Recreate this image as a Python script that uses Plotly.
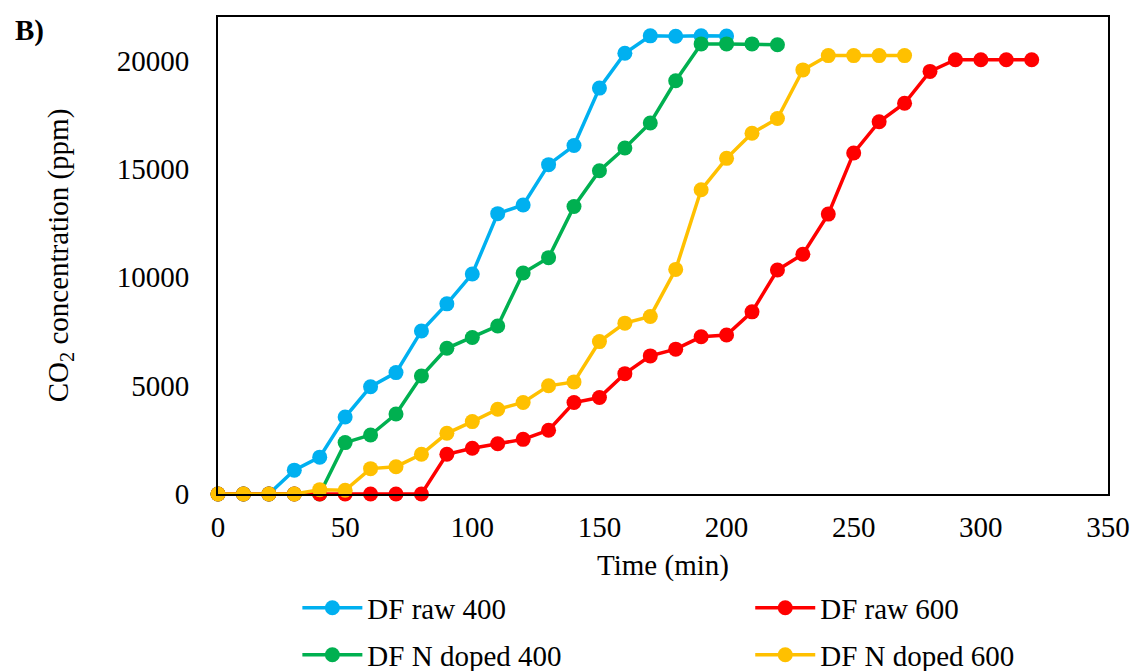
import plotly.graph_objects as go

time_raw400 = [0, 10, 20, 30, 40, 50, 60, 70, 80, 90, 100, 110, 120, 130, 140, 150, 160, 170, 180, 190, 200]
co2_raw400 = [0, 0, 0, 1100, 1700, 3550, 4950, 5600, 7520, 8770, 10150, 12930, 13330, 15190, 16070, 18720, 20330, 21130, 21110, 21130, 21120]

time_raw600 = [0, 10, 20, 30, 40, 50, 60, 70, 80, 90, 100, 110, 120, 130, 140, 150, 160, 170, 180, 190, 200,
               210, 220, 230, 240, 250, 260, 270, 280, 290, 300, 310, 320]
co2_raw600 = [0, 0, 0, 0, 0, 0, 0, 0, 0, 1830, 2110, 2320, 2520, 2940, 4220, 4450, 5550, 6370, 6680, 7250, 7330,
              8400, 10330, 11060, 12910, 15730, 17170, 18020, 19490, 20030, 20030, 20030, 20030]

time_nd400 = [0, 10, 20, 30, 40, 50, 60, 70, 80, 90, 100, 110, 120, 130, 140, 150, 160, 170, 180, 190, 200, 210, 220]
co2_nd400 = [0, 0, 0, 0, 0, 2370, 2720, 3690, 5440, 6720, 7220, 7750, 10190, 10900, 13260, 14910, 15960, 17110,
             19060, 20760, 20760, 20760, 20720]

time_nd600 = [0, 10, 20, 30, 40, 50, 60, 70, 80, 90, 100, 110, 120, 130, 140, 150, 160, 170, 180, 190, 200,
              210, 220, 230, 240, 250, 260, 270]
co2_nd600 = [0, 0, 0, 0, 200, 170, 1170, 1260, 1830, 2800, 3340, 3910, 4220, 4990, 5170, 7030, 7880, 8190,
             10360, 14030, 15480, 16640, 17320, 19560, 20220, 20220, 20220, 20220]

x_ticks = [0, 50, 100, 150, 200, 250, 300, 350]
y_ticks = [0, 5000, 10000, 15000, 20000]

FONT = "Liberation Serif"
FS = 29

# name, x, y, colour, legend id, legend position (container coords)
series = [
    ("DF raw 400", time_raw400, co2_raw400, "#00B0F0", "legend", (0.262, 0.094)),
    ("DF N doped 400", time_nd400, co2_nd400, "#00B050", "legend3", (0.262, 0.024)),
    ("DF raw 600", time_raw600, co2_raw600, "#FF0000", "legend2", (0.661, 0.094)),
    ("DF N doped 600", time_nd600, co2_nd600, "#FFC000", "legend4", (0.661, 0.024)),
]

fig = go.Figure()
legends = {}
for name, xs, ys, color, leg, pos in series:
    fig.add_trace(go.Scatter(
        x=xs, y=ys, name=name, mode="lines+markers",
        line=dict(color=color, width=3.5),
        marker=dict(color=color, size=15),
        cliponaxis=False, legend=leg,
    ))
    legends[leg] = dict(
        orientation="h", x=pos[0], y=pos[1], xref="container", yref="container",
        xanchor="left", yanchor="middle", itemwidth=60,
        font=dict(size=FS, family=FONT, color="black"), bgcolor="rgba(0,0,0,0)",
    )

fig.update_layout(
    width=1135, height=671,
    margin=dict(l=218, r=27, t=17, b=177),
    plot_bgcolor="white", paper_bgcolor="white",
    font=dict(family=FONT, color="black", size=FS),
    showlegend=True,
    **legends,
)

fig.update_xaxes(
    range=[0, 350], tickvals=x_ticks, ticktext=[str(v) for v in x_ticks],
    showgrid=False, zeroline=False, showline=True, linecolor="black", linewidth=2, mirror=True,
    ticks="outside", ticklen=6, tickcolor="rgba(0,0,0,0)",
    tickfont=dict(size=FS, family=FONT),
    title=dict(text="Time (min)", font=dict(size=FS, family=FONT), standoff=15),
    automargin=False,
)
fig.update_yaxes(
    range=[0, 22000], tickvals=y_ticks, ticktext=[str(v) for v in y_ticks],
    showgrid=False, zeroline=False, showline=True, linecolor="black", linewidth=2, mirror=True,
    ticks="outside", ticklen=21, tickcolor="rgba(0,0,0,0)",
    tickfont=dict(size=FS, family=FONT),
    title=dict(text="CO<sub>2</sub> concentration (ppm)", font=dict(size=FS, family=FONT), standoff=40),
    automargin=False,
)

fig.add_annotation(text="<b>B)</b>", xref="paper", yref="paper", x=-0.2306, y=1.01,
                   xanchor="left", yanchor="top", showarrow=False,
                   font=dict(size=FS, family=FONT, color="black"))

fig.write_html("out.html")
